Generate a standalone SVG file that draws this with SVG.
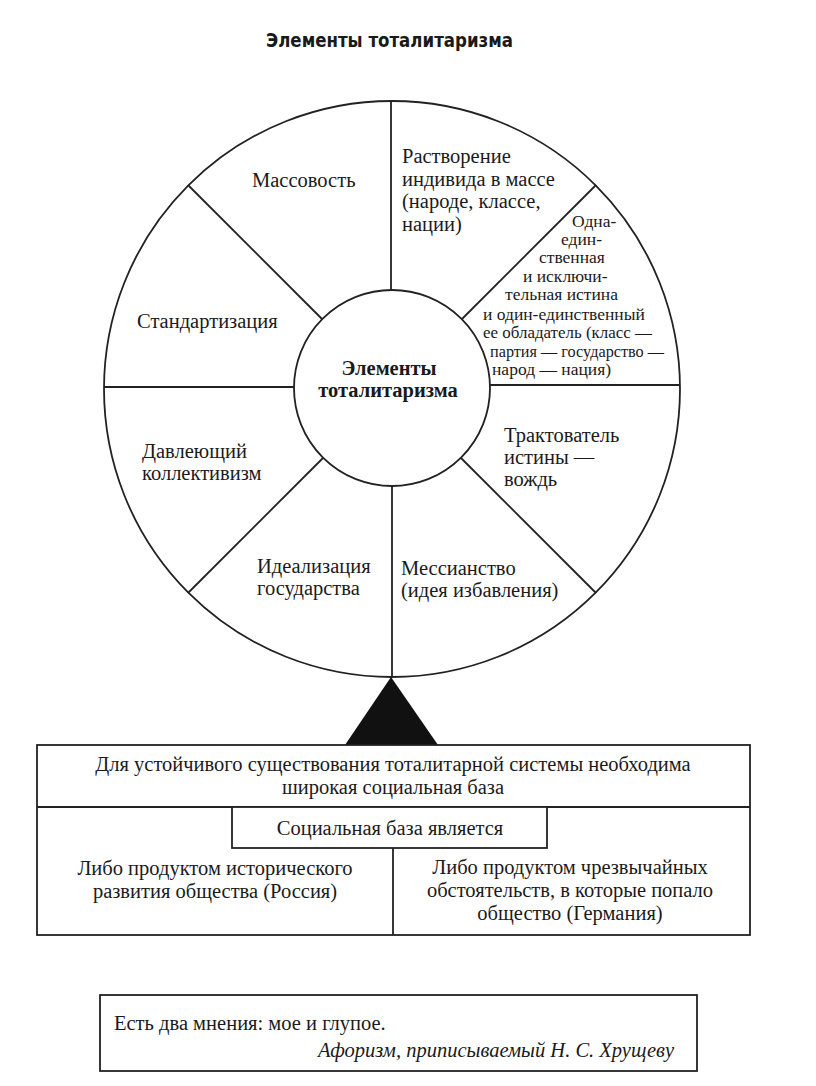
<svg xmlns="http://www.w3.org/2000/svg" width="816" height="1086" viewBox="0 0 816 1086">
<style>
.bg{fill:#fff}
.ln{stroke:#222;stroke-width:1.8;fill:none}
.box{stroke:#222;stroke-width:1.8;fill:#fff}
.t{font-family:"Liberation Serif","Times New Roman",serif;font-size:20.5px;fill:#1a1a1a}
.s{font-family:"Liberation Serif","Times New Roman",serif;font-size:17.5px;fill:#1a1a1a}
.c{text-anchor:middle}
.b{font-weight:bold}
.title{font-family:"Liberation Sans Narrow","DejaVu Sans Condensed",sans-serif;font-weight:bold;font-size:20px;fill:#1a1a1a}
.i{font-style:italic}
</style>
<rect class="bg" x="0" y="0" width="816" height="1086"/>
<text id="title" class="title" x="266" y="47" textLength="247" lengthAdjust="spacingAndGlyphs">Элементы тоталитаризма</text>

<g id="connectors">
<circle class="ln" cx="392" cy="389" r="288"/>
<line class="ln" x1="391" y1="101" x2="391" y2="291"/>
<line class="ln" x1="392" y1="487" x2="392" y2="677"/>
<line class="ln" x1="104" y1="387" x2="294" y2="387"/>
<line class="ln" x1="490" y1="385" x2="680" y2="385"/>
<line class="ln" x1="188" y1="185" x2="323" y2="320"/>
<line class="ln" x1="596" y1="185" x2="461" y2="320"/>
<line class="ln" x1="188" y1="593" x2="323" y2="458"/>
<line class="ln" x1="596" y1="593" x2="461" y2="458"/>
<polygon points="391,677 345,745 438,745" fill="#111"/>
</g>

<g id="center">
<circle class="box" cx="392" cy="388" r="98"/>
<text class="t c b" x="389" y="375" font-size="15.5">Элементы</text>
<text class="t c b" x="388" y="397" font-size="15.5">тоталитаризма</text>
</g>

<g id="n-massovost">
<text class="t" x="252" y="187">Массовость</text>
</g>
<g id="n-rastvorenie">
<text class="t" x="402" y="163">Растворение</text>
<text class="t" x="402" y="186">индивида в массе</text>
<text class="t" x="402" y="208">(народе, классе,</text>
<text class="t" x="402" y="231">нации)</text>
</g>
<g id="n-istina">
<text class="s" x="572" y="227">Одна-</text>
<text class="s" x="561" y="245">един-</text>
<text class="s" x="539" y="263">ственная</text>
<text class="s" x="523" y="282">и исключи-</text>
<text class="s" x="505" y="300">тельная истина</text>
<text class="s" x="483" y="320">и один-единственный</text>
<text class="s" x="483" y="338" textLength="169" lengthAdjust="spacingAndGlyphs">ее обладатель (класс —</text>
<text class="s" x="490" y="357" textLength="174" lengthAdjust="spacingAndGlyphs">партия — государство —</text>
<text class="s" x="492" y="375">народ — нация)</text>
</g>
<g id="n-standart">
<text class="t" x="137" y="328">Стандартизация</text>
</g>
<g id="n-davl">
<text class="t" x="142" y="458">Давлеющий</text>
<text class="t" x="142" y="480">коллективизм</text>
</g>
<g id="n-ideal">
<text class="t" x="257" y="573">Идеализация</text>
<text class="t" x="257" y="595">государства</text>
</g>
<g id="n-messian">
<text class="t" x="401" y="575">Мессианство</text>
<text class="t" x="401" y="597">(идея избавления)</text>
</g>
<g id="n-traktov">
<text class="t" x="504" y="442">Трактователь</text>
<text class="t" x="504" y="464">истины —</text>
<text class="t" x="504" y="486">вождь</text>
</g>

<g id="n-base">
<rect class="box" x="37" y="745" width="713" height="190"/>
<line class="ln" x1="37" y1="807" x2="750" y2="807"/>
<text class="t c" x="393" y="771">Для устойчивого существования тоталитарной системы необходима</text>
<text class="t c" x="393" y="794">широкая социальная база</text>
</g>
<g id="n-social">
<rect class="box" x="232" y="807" width="315" height="41"/>
<text class="t c" x="390" y="835">Социальная база является</text>
</g>
<g id="n-russia">
<line class="ln" x1="393" y1="848" x2="393" y2="935"/>
<text class="t c" x="215" y="875">Либо продуктом исторического</text>
<text class="t c" x="215" y="898">развития общества (Россия)</text>
</g>
<g id="n-germany">
<text class="t c" x="570" y="874">Либо продуктом чрезвычайных</text>
<text class="t c" x="570" y="897">обстоятельств, в которые попало</text>
<text class="t c" x="570" y="920">общество (Германия)</text>
</g>

<g id="n-quote">
<rect class="box" x="100" y="995" width="597" height="76"/>
<text class="t" x="114" y="1030" font-size="19">Есть два мнения: мое и глупое.</text>
<text class="t i" x="674" y="1057" font-size="18" text-anchor="end">Афоризм, приписываемый Н. С. Хрущеву</text>
</g>
</svg>
